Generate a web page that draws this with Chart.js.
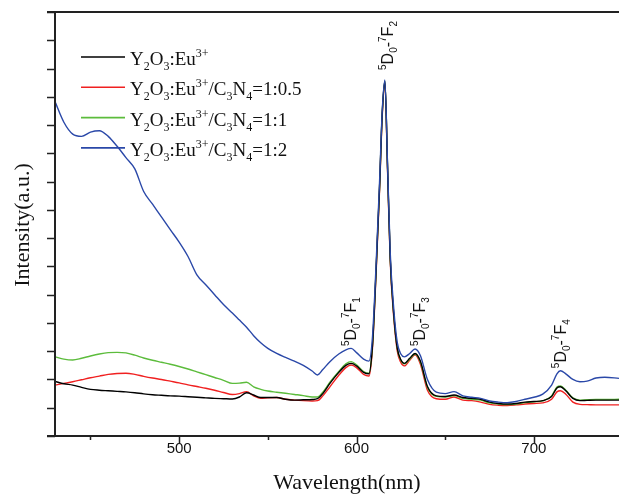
<!DOCTYPE html>
<html>
<head>
<meta charset="utf-8">
<script src="https://cdn.jsdelivr.net/npm/chart.js@4/dist/chart.umd.min.js"></script>
<style>
  html, body { margin: 0; padding: 0; background: #fff; }
  #wrap { width: 619px; height: 496px; position: relative; }
</style>
</head>
<body>
<div id="wrap"><canvas id="pl-chart"></canvas></div>
<script>
// emission spectra, intensity in arbitrary units (0..15 matches the 15 y-tick divisions)
const wavelengths = [430, 435, 440, 445, 450, 455, 460, 465, 470, 475, 480, 485, 490, 495, 500, 505, 510, 515, 520, 525,
  530, 534, 538, 542, 546, 550, 555, 560, 565, 570, 575, 578, 581, 585, 590, 594, 597, 600, 604, 607,
  609, 611, 613, 614.5, 616, 617.5, 619, 621, 623, 625, 627, 630, 633, 636, 640, 645, 650, 655, 660, 665,
  670, 675, 680, 685, 690, 695, 700, 705, 710, 713, 715, 718, 722, 726, 730, 735, 740, 748];

const euOnly = [1.93, 1.85, 1.80, 1.72, 1.65, 1.62, 1.60, 1.58, 1.56, 1.53, 1.49, 1.46, 1.44, 1.42, 1.41, 1.39, 1.37, 1.35, 1.33, 1.32,
  1.31, 1.38, 1.53, 1.45, 1.36, 1.36, 1.36, 1.30, 1.27, 1.28, 1.29, 1.32, 1.50, 1.86, 2.25, 2.50, 2.57, 2.48, 2.25, 2.20,
  3.20, 5.80, 8.80, 11.4, 12.55, 9.50, 6.30, 4.30, 3.10, 2.70, 2.57, 2.75, 2.92, 2.65, 1.75, 1.42, 1.40, 1.45, 1.36, 1.33,
  1.30, 1.20, 1.15, 1.13, 1.15, 1.20, 1.22, 1.25, 1.40, 1.70, 1.74, 1.60, 1.33, 1.25, 1.26, 1.27, 1.27, 1.27];

const ratioHalf = [1.80, 1.86, 1.92, 1.99, 2.06, 2.12, 2.18, 2.21, 2.22, 2.18, 2.11, 2.05, 2.00, 1.94, 1.88, 1.81, 1.75, 1.69, 1.62, 1.54,
  1.47, 1.50, 1.57, 1.42, 1.33, 1.35, 1.36, 1.30, 1.27, 1.25, 1.24, 1.25, 1.42, 1.74, 2.15, 2.42, 2.51, 2.42, 2.18, 2.12,
  3.10, 5.70, 8.70, 11.3, 12.5, 9.40, 6.20, 4.20, 3.00, 2.60, 2.48, 2.68, 2.87, 2.55, 1.62, 1.32, 1.30, 1.38, 1.27, 1.25,
  1.20, 1.12, 1.09, 1.08, 1.10, 1.13, 1.15, 1.17, 1.30, 1.56, 1.60, 1.48, 1.20, 1.12, 1.11, 1.10, 1.10, 1.10];

const ratioOne = [2.80, 2.72, 2.69, 2.75, 2.83, 2.90, 2.95, 2.96, 2.94, 2.86, 2.76, 2.68, 2.61, 2.54, 2.46, 2.37, 2.27, 2.17, 2.07, 1.97,
  1.86, 1.87, 1.90, 1.74, 1.65, 1.59, 1.55, 1.51, 1.47, 1.43, 1.38, 1.38, 1.55, 1.90, 2.28, 2.55, 2.63, 2.52, 2.28, 2.22,
  3.20, 5.80, 8.80, 11.4, 12.55, 9.50, 6.30, 4.30, 3.10, 2.68, 2.55, 2.72, 2.90, 2.62, 1.72, 1.40, 1.38, 1.43, 1.33, 1.30,
  1.27, 1.17, 1.13, 1.11, 1.13, 1.18, 1.21, 1.24, 1.42, 1.73, 1.77, 1.62, 1.35, 1.27, 1.28, 1.29, 1.29, 1.30];

const ratioTwo = [11.83, 11.1, 10.68, 10.6, 10.75, 10.8, 10.6, 10.25, 9.85, 9.45, 8.65, 8.20, 7.75, 7.30, 6.86, 6.35, 5.70, 5.35, 5.00, 4.65,
  4.35, 4.10, 3.85, 3.55, 3.30, 3.10, 2.92, 2.78, 2.65, 2.50, 2.30, 2.16, 2.35, 2.63, 2.90, 3.05, 3.10, 2.95, 2.72, 2.65,
  3.50, 6.00, 9.00, 11.5, 12.6, 9.60, 6.50, 4.50, 3.30, 2.90, 2.80, 2.92, 3.08, 2.85, 2.00, 1.55, 1.50, 1.57, 1.42, 1.37,
  1.33, 1.24, 1.20, 1.18, 1.22, 1.30, 1.37, 1.48, 1.80, 2.20, 2.31, 2.20, 2.00, 1.92, 1.94, 2.05, 2.08, 2.04];

const xLabels = [500, 600, 700];
const xMinor = [450, 550, 650, 750];

// legend entries: [text, 'n' | 'sub' | 'sup'] pieces
const seriesNames = [
  [['Y', 'n'], ['2', 'sub'], ['O', 'n'], ['3', 'sub'], [':Eu', 'n'], ['3+', 'sup']],
  [['Y', 'n'], ['2', 'sub'], ['O', 'n'], ['3', 'sub'], [':Eu', 'n'], ['3+', 'sup'], ['/C', 'n'], ['3', 'sub'], ['N', 'n'], ['4', 'sub'], ['=1:0.5', 'n']],
  [['Y', 'n'], ['2', 'sub'], ['O', 'n'], ['3', 'sub'], [':Eu', 'n'], ['3+', 'sup'], ['/C', 'n'], ['3', 'sub'], ['N', 'n'], ['4', 'sub'], ['=1:1', 'n']],
  [['Y', 'n'], ['2', 'sub'], ['O', 'n'], ['3', 'sub'], [':Eu', 'n'], ['3+', 'sup'], ['/C', 'n'], ['3', 'sub'], ['N', 'n'], ['4', 'sub'], ['=1:2', 'n']],
];
const seriesColors = ['#000000', '#f02020', '#5cbc3c', '#2a48a8'];

// transition labels: final level index, anchor wavelength / intensity
const transitions = [
  { f: '2', wl: 615.2, y: 12.95 },
  { f: '1', wl: 594.2, y: 3.18 },
  { f: '3', wl: 632.9, y: 3.18 },
  { f: '4', wl: 712.7, y: 2.4 },
];

function transitionParts(f) {
  return [['5', 'sup'], ['D', 'n'], ['0', 'sub'], ['-', 'n'], ['7', 'sup'], ['F', 'n'], [f, 'sub']];
}

// draws mixed normal/sub/superscript text starting at (x, y) on the baseline
function drawRich(ctx, parts, x, y, family, size, small, subDy, supDy) {
  let cx = x;
  ctx.textAlign = 'left';
  ctx.textBaseline = 'alphabetic';
  for (const [t, kind] of parts) {
    const fs = kind === 'n' ? size : small;
    ctx.font = fs + 'px ' + family;
    const dy = kind === 'sub' ? subDy : kind === 'sup' ? supDy : 0;
    ctx.fillText(t, cx, y + dy);
    cx += ctx.measureText(t).width;
  }
  return cx - x;
}

const decorPlugin = {
  id: 'decor',
  afterDraw(chart) {
    const { ctx, chartArea, scales } = chart;
    const xs = scales.x, ys = scales.y;
    ctx.save();
    ctx.strokeStyle = '#222';
    ctx.lineWidth = 2;
    // frame: top line, left axis, bottom axis
    ctx.beginPath();
    ctx.moveTo(chartArea.left - 8, chartArea.top);
    ctx.lineTo(chart.width, chartArea.top);
    ctx.moveTo(chartArea.left, chartArea.top);
    ctx.lineTo(chartArea.left, chartArea.bottom);
    ctx.moveTo(chartArea.left - 8, chartArea.bottom);
    ctx.lineTo(chart.width, chartArea.bottom);
    ctx.stroke();
    // y ticks, one per unit
    ctx.lineWidth = 1.5;
    ctx.beginPath();
    for (let v = ys.min; v <= ys.max; v++) {
      const py = Math.round(ys.getPixelForValue(v)) + 0.5;
      ctx.moveTo(chartArea.left - 8, py);
      ctx.lineTo(chartArea.left, py);
    }
    // x ticks, major and minor
    for (const v of xLabels) {
      const px = Math.round(xs.getPixelForValue(v)) + 0.5;
      ctx.moveTo(px, chartArea.bottom);
      ctx.lineTo(px, chartArea.bottom + 8);
    }
    for (const v of xMinor) {
      const px = Math.round(xs.getPixelForValue(v)) + 0.5;
      ctx.moveTo(px, chartArea.bottom);
      ctx.lineTo(px, chartArea.bottom + 4);
    }
    ctx.stroke();

    // legend
    ctx.lineWidth = 1.6;
    seriesNames.forEach((parts, i) => {
      const ly = 57 + i * 30.3;
      ctx.strokeStyle = seriesColors[i];
      ctx.beginPath();
      ctx.moveTo(81, ly);
      ctx.lineTo(125, ly);
      ctx.stroke();
      ctx.fillStyle = '#111';
      drawRich(ctx, parts, 130, ly + 8, '"Liberation Serif", serif', 19, 12, 5, -8);
    });

    // transition labels, rotated to read upward
    ctx.fillStyle = '#111';
    for (const t of transitions) {
      const px = xs.getPixelForValue(t.wl);
      const py = ys.getPixelForValue(t.y);
      ctx.save();
      ctx.translate(px + 10, py);
      ctx.rotate(-Math.PI / 2);
      drawRich(ctx, transitionParts(t.f), 0, 0, '"Liberation Sans", Arial, sans-serif', 16, 10, 4, -7);
      ctx.restore();
    }

    // axis titles
    ctx.font = '22px "Liberation Serif", serif';
    ctx.textAlign = 'center';
    ctx.textBaseline = 'middle';
    ctx.fillText('Wavelength(nm)', 347, 483);
    ctx.save();
    ctx.translate(23, 225);
    ctx.rotate(-Math.PI / 2);
    ctx.fillText('Intensity(a.u.)', 0, 0);
    ctx.restore();
    ctx.restore();
  }
};

const datasets = [euOnly, ratioHalf, ratioOne, ratioTwo].map((vals, i) => ({
  label: 'series' + i,
  data: vals.map((v, j) => ({ x: wavelengths[j], y: v })),
  borderColor: seriesColors[i],
  borderWidth: 1.4,
  pointRadius: 0,
  cubicInterpolationMode: 'monotone',
  fill: false,
  order: [1, 3, 2, 0][i],
}));

new Chart(document.getElementById('pl-chart').getContext('2d'), {
  type: 'line',
  data: { datasets },
  options: {
    responsive: true,
    maintainAspectRatio: false,
    animation: false,
    layout: { padding: { top: 12, right: 0, left: 0, bottom: 0 } },
    scales: {
      x: {
        type: 'linear',
        min: 430,
        max: 748,
        grid: { display: false, drawTicks: false },
        border: { display: false },
        afterBuildTicks: (scale) => { scale.ticks = xLabels.map((v) => ({ value: v })); },
        afterFit: (scale) => { scale.height = 60; },
        ticks: {
          padding: 4,
          color: '#111',
          font: { family: '"Liberation Sans", Arial, sans-serif', size: 15 },
          maxRotation: 0,
        },
      },
      y: {
        min: 0,
        max: 15,
        grid: { display: false, drawTicks: false },
        border: { display: false },
        ticks: { display: false },
        afterFit: (scale) => { scale.width = 55; },
      },
    },
    plugins: { legend: { display: false }, tooltip: { enabled: false } },
  },
  plugins: [decorPlugin],
});
</script>
</body>
</html>
